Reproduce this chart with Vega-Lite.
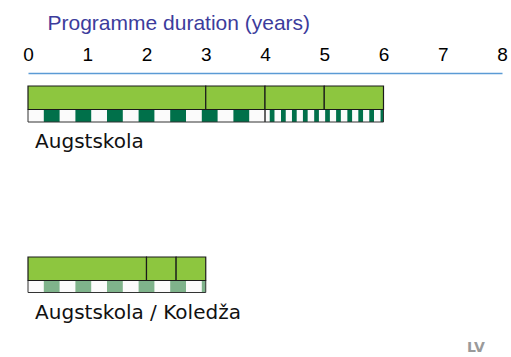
{
  "$schema": "https://vega.github.io/schema/vega-lite/v6.json",
  "width": 474,
  "height": 284,
  "autosize": "none",
  "padding": {"left": 28, "top": 73, "right": 9, "bottom": 0},
  "background": "white",
  "config": {"view": {"stroke": null}},
  "datasets": {
    "segs": [
      {"prog": "Augstskola", "part": "cycle", "kind": "cycle", "x0": 0, "x1": 3, "y0": 1.3, "y1": 3.65},
      {"prog": "Augstskola", "part": "cycle", "kind": "cycle", "x0": 3, "x1": 4, "y0": 1.3, "y1": 3.65},
      {"prog": "Augstskola", "part": "cycle", "kind": "cycle", "x0": 4, "x1": 5, "y0": 1.3, "y1": 3.65},
      {"prog": "Augstskola", "part": "cycle", "kind": "cycle", "x0": 5, "x1": 6, "y0": 1.3, "y1": 3.65},
      {"prog": "Koledža", "part": "cycle", "kind": "cycle", "x0": 0, "x1": 2, "y0": 18.4, "y1": 20.75},
      {"prog": "Koledža", "part": "cycle", "kind": "cycle", "x0": 2, "x1": 2.5, "y0": 18.4, "y1": 20.75},
      {"prog": "Koledža", "part": "cycle", "kind": "cycle", "x0": 2.5, "x1": 3, "y0": 18.4, "y1": 20.75},
      {"prog": "Augstskola", "part": "band", "kind": "band", "x0": 0, "x1": 4, "y0": 3.65, "y1": 4.9},
      {"prog": "Augstskola", "part": "band", "kind": "band", "x0": 4, "x1": 6, "y0": 3.65, "y1": 4.9},
      {"prog": "Koledža", "part": "band", "kind": "band", "x0": 0, "x1": 3, "y0": 20.75, "y1": 21.95},
      {"prog": "Augstskola", "part": "stripe", "kind": "dark", "x0": 0.2667, "x1": 0.5333, "y0": 3.65, "y1": 4.9},
      {"prog": "Augstskola", "part": "stripe", "kind": "dark", "x0": 0.8, "x1": 1.0667, "y0": 3.65, "y1": 4.9},
      {"prog": "Augstskola", "part": "stripe", "kind": "dark", "x0": 1.3333, "x1": 1.6, "y0": 3.65, "y1": 4.9},
      {"prog": "Augstskola", "part": "stripe", "kind": "dark", "x0": 1.8667, "x1": 2.1333, "y0": 3.65, "y1": 4.9},
      {"prog": "Augstskola", "part": "stripe", "kind": "dark", "x0": 2.4, "x1": 2.6667, "y0": 3.65, "y1": 4.9},
      {"prog": "Augstskola", "part": "stripe", "kind": "dark", "x0": 2.9333, "x1": 3.2, "y0": 3.65, "y1": 4.9},
      {"prog": "Augstskola", "part": "stripe", "kind": "dark", "x0": 3.4667, "x1": 3.7333, "y0": 3.65, "y1": 4.9},
      {"prog": "Augstskola", "part": "stripe", "kind": "dark", "x0": 4.08, "x1": 4.16, "y0": 3.65, "y1": 4.9},
      {"prog": "Augstskola", "part": "stripe", "kind": "dark", "x0": 4.27, "x1": 4.35, "y0": 3.65, "y1": 4.9},
      {"prog": "Augstskola", "part": "stripe", "kind": "dark", "x0": 4.455, "x1": 4.535, "y0": 3.65, "y1": 4.9},
      {"prog": "Augstskola", "part": "stripe", "kind": "dark", "x0": 4.64, "x1": 4.72, "y0": 3.65, "y1": 4.9},
      {"prog": "Augstskola", "part": "stripe", "kind": "dark", "x0": 4.83, "x1": 4.91, "y0": 3.65, "y1": 4.9},
      {"prog": "Augstskola", "part": "stripe", "kind": "dark", "x0": 5.015, "x1": 5.095, "y0": 3.65, "y1": 4.9},
      {"prog": "Augstskola", "part": "stripe", "kind": "dark", "x0": 5.2, "x1": 5.28, "y0": 3.65, "y1": 4.9},
      {"prog": "Augstskola", "part": "stripe", "kind": "dark", "x0": 5.39, "x1": 5.47, "y0": 3.65, "y1": 4.9},
      {"prog": "Augstskola", "part": "stripe", "kind": "dark", "x0": 5.575, "x1": 5.655, "y0": 3.65, "y1": 4.9},
      {"prog": "Augstskola", "part": "stripe", "kind": "dark", "x0": 5.76, "x1": 5.84, "y0": 3.65, "y1": 4.9},
      {"prog": "Augstskola", "part": "stripe", "kind": "dark", "x0": 5.95, "x1": 6.0, "y0": 3.65, "y1": 4.9},
      {"prog": "Koledža", "part": "stripe", "kind": "light", "x0": 0.2667, "x1": 0.5333, "y0": 20.75, "y1": 21.95},
      {"prog": "Koledža", "part": "stripe", "kind": "light", "x0": 0.8, "x1": 1.0667, "y0": 20.75, "y1": 21.95},
      {"prog": "Koledža", "part": "stripe", "kind": "light", "x0": 1.3333, "x1": 1.6, "y0": 20.75, "y1": 21.95},
      {"prog": "Koledža", "part": "stripe", "kind": "light", "x0": 1.8667, "x1": 2.1333, "y0": 20.75, "y1": 21.95},
      {"prog": "Koledža", "part": "stripe", "kind": "light", "x0": 2.4, "x1": 2.6667, "y0": 20.75, "y1": 21.95},
      {"prog": "Koledža", "part": "stripe", "kind": "light", "x0": 2.9333, "x1": 3.0, "y0": 20.75, "y1": 21.95}
    ],
    "labels": [
      {"label": "Augstskola", "x": 0.12, "y": 7.5},
      {"label": "Augstskola / Koledža", "x": 0.12, "y": 24.6}
    ],
    "country": [
      {"label": "LV", "x": 7.71, "y": 27.9}
    ]
  },
  "layer": [
    {
      "data": {"name": "segs"},
      "transform": [{"filter": "datum.part === 'band'"}],
      "mark": {"type": "rect", "fill": "#fbfbfb", "stroke": null},
      "encoding": {
        "x": {
          "field": "x0", "type": "quantitative",
          "scale": {"domain": [0, 8], "nice": false, "zero": false},
          "axis": {
            "orient": "top",
            "values": [0, 1, 2, 3, 4, 5, 6, 7, 8],
            "format": "d",
            "grid": false,
            "ticks": false,
            "tickSize": 0,
            "labelPadding": 9,
            "labelFont": "Liberation Sans",
            "labelFontSize": 19,
            "labelColor": "#000000",
            "labelFlush": false,
            "domainColor": "#5b9bd5",
            "domainWidth": 1.5,
            "title": "Programme duration (years)",
            "titleFont": "Liberation Sans",
            "titleFontSize": 21,
            "titleFontWeight": "normal",
            "titleColor": "#3c3c9c",
            "titleAnchor": "start",
            "titleAlign": "left",
            "titleBaseline": "alphabetic",
            "titleX": 19,
            "titleY": -44
          }
        },
        "x2": {"field": "x1"},
        "y": {
          "field": "y0", "type": "quantitative",
          "scale": {"domain": [0, 28.4], "nice": false, "zero": false, "reverse": true},
          "axis": null
        },
        "y2": {"field": "y1"}
      }
    },
    {
      "data": {"name": "segs"},
      "transform": [{"filter": "datum.part === 'stripe'"}],
      "mark": {"type": "rect", "stroke": null},
      "encoding": {
        "x": {"field": "x0", "type": "quantitative"},
        "x2": {"field": "x1"},
        "y": {"field": "y0", "type": "quantitative"},
        "y2": {"field": "y1"},
        "fill": {
          "field": "kind", "type": "nominal",
          "scale": {"domain": ["dark", "light"], "range": ["#00704a", "#7fb38b"]},
          "legend": null
        }
      }
    },
    {
      "data": {"name": "segs"},
      "transform": [{"filter": "datum.part === 'band'"}],
      "mark": {"type": "rect", "fill": null, "fillOpacity": 0, "stroke": "#333333", "strokeWidth": 1},
      "encoding": {
        "x": {"field": "x0", "type": "quantitative"},
        "x2": {"field": "x1"},
        "y": {"field": "y0", "type": "quantitative"},
        "y2": {"field": "y1"}
      }
    },
    {
      "data": {"name": "segs"},
      "transform": [{"filter": "datum.part === 'cycle'"}],
      "mark": {"type": "rect", "fill": "#8dc63f", "stroke": "#1a1a1a", "strokeWidth": 1.2},
      "encoding": {
        "x": {"field": "x0", "type": "quantitative"},
        "x2": {"field": "x1"},
        "y": {"field": "y0", "type": "quantitative"},
        "y2": {"field": "y1"}
      }
    },
    {
      "data": {"name": "labels"},
      "mark": {"type": "text", "align": "left", "baseline": "alphabetic", "font": "DejaVu Sans", "fontSize": 20, "color": "#111111"},
      "encoding": {
        "x": {"field": "x", "type": "quantitative"},
        "y": {"field": "y", "type": "quantitative"},
        "text": {"field": "label"}
      }
    },
    {
      "data": {"name": "country"},
      "mark": {"type": "text", "align": "right", "baseline": "alphabetic", "font": "DejaVu Sans", "fontSize": 14, "fontWeight": "bold", "color": "#9a9a9a"},
      "encoding": {
        "x": {"field": "x", "type": "quantitative"},
        "y": {"field": "y", "type": "quantitative"},
        "text": {"field": "label"}
      }
    }
  ]
}
